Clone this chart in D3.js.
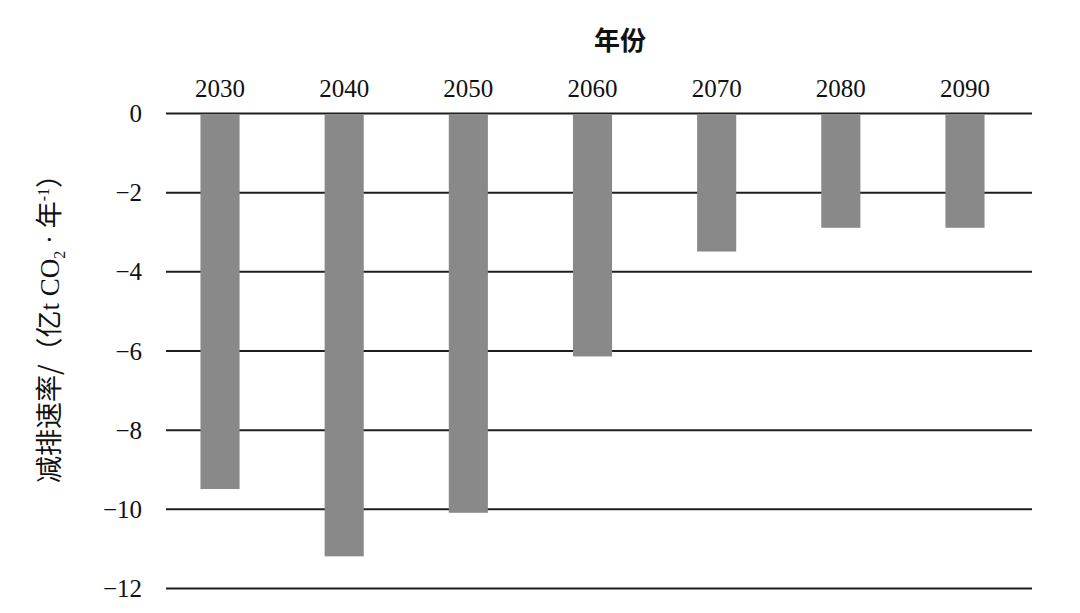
<!DOCTYPE html>
<html><head><meta charset="utf-8">
<script src="https://cdn.jsdelivr.net/npm/d3@7"></script>
<style>body{margin:0;background:#fff}</style>
</head><body>
<svg id="chart" width="1080" height="613"></svg>
<script>
const years = ["2030","2040","2050","2060","2070","2080","2090"];
const rates = [-9.5, -11.2, -10.1, -6.15, -3.5, -2.9, -2.9];
const yTicks = [0, -2, -4, -6, -8, -10, -12];
const xTitle = "年份";

const svg = d3.select("#chart");
const serif = "'Liberation Serif','Times New Roman','Noto Sans CJK SC',serif";
const gridLeft = 166, gridRight = 1032;

const x = d3.scaleBand().domain(years).range([158, 1027]).paddingInner(0.685).paddingOuter(0.342);
const y = d3.scaleLinear().domain([0, -12]).range([113, 588]);

// gridlines + y tick labels
const yAxis = d3.axisLeft(y).tickValues(yTicks).tickSize(-(gridRight - gridLeft)).tickPadding(24)
  .tickFormat(d => d === 0 ? "0" : "\u2212" + Math.abs(d));
const gy = svg.append("g").attr("transform", `translate(${gridLeft},0)`).call(yAxis);
gy.select(".domain").remove();
gy.selectAll(".tick line").attr("stroke", "#1e1e1e").attr("stroke-width", 2);
gy.selectAll(".tick text").attr("font-family", serif).attr("font-size", 25).attr("fill", "#111").attr("dy", "0.34em");

// bars
svg.append("g").selectAll("rect").data(years).join("rect")
  .attr("x", d => x(d))
  .attr("width", x.bandwidth())
  .attr("y", (d, i) => y(0) + 1.5)
  .attr("height", (d, i) => y(rates[i]) - y(0) - 1.5)
  .attr("fill", "#898989");

// top axis labels
const xAxis = d3.axisTop(x).tickSize(0).tickPadding(0);
const gx = svg.append("g").attr("transform", "translate(0,97)").call(xAxis);
gx.select(".domain").remove();
gx.selectAll(".tick text").attr("font-family", serif).attr("font-size", 25).attr("fill", "#111").attr("dy", 0);

// title
svg.append("text").attr("x", 620).attr("y", 50).attr("text-anchor", "middle")
  .attr("font-family", "'Noto Sans CJK SC',sans-serif").attr("font-weight", 700).attr("font-size", 26)
  .attr("fill", "#111").text(xTitle);

// y label
const yl = svg.append("text").attr("transform", "translate(59,322) rotate(-90)").attr("text-anchor", "middle")
  .attr("font-family", serif).attr("font-size", 27).attr("fill", "#111");
yl.append("tspan").attr("font-family", "'Noto Sans CJK SC',sans-serif").text("减排速率/（亿");
yl.append("tspan").text("t CO");
yl.append("tspan").attr("font-size", 16).attr("dy", 6).text("2");
yl.append("tspan").attr("dy", -6).text(" · ");
yl.append("tspan").attr("font-family", "'Noto Sans CJK SC',sans-serif").text("年");
yl.append("tspan").attr("font-size", 16).attr("dy", -10).text("-1");
yl.append("tspan").attr("dy", 10).attr("font-family", "'Noto Sans CJK SC',sans-serif").text("）");
</script>
</body></html>
